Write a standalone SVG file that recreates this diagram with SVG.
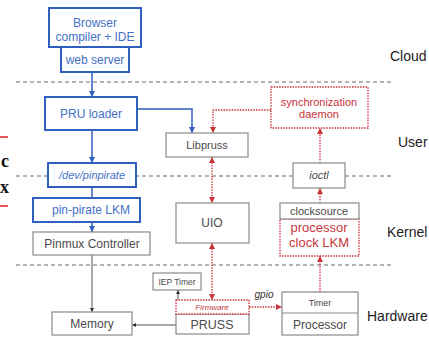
<svg xmlns="http://www.w3.org/2000/svg" width="429" height="339" viewBox="0 0 429 339">
<defs>
<marker id="ab" viewBox="0 0 10 10" refX="10" refY="5" markerWidth="6" markerHeight="6" markerUnits="userSpaceOnUse" orient="auto-start-reverse"><path d="M0,0L10,5L0,10z" fill="#2f5fbf"/></marker>
<marker id="ar" viewBox="0 0 10 10" refX="10" refY="5" markerWidth="6" markerHeight="6" markerUnits="userSpaceOnUse" orient="auto-start-reverse"><path d="M0,0L10,5L0,10z" fill="#c8343a"/></marker>
<marker id="ag" viewBox="0 0 10 10" refX="10" refY="5" markerWidth="4" markerHeight="4" markerUnits="userSpaceOnUse" orient="auto-start-reverse"><path d="M0,0L10,5L0,10z" fill="#333"/></marker>
</defs>
<style>
text{font-family:"Liberation Sans",Arial,sans-serif;text-anchor:middle}
.blue{fill:#fff;stroke:#2f5fbf;stroke-width:2}
.bt{fill:#4570c6;font-size:12px}
.gray{fill:#fff;stroke:#8a8a8a;stroke-width:1.2}
.gt{fill:#4a4a4a;font-size:12px}
.red{fill:#fff;stroke:#c8343a;stroke-width:1.3;stroke-dasharray:1.5 1.2}
.rt{fill:#c8343a}
.dash{stroke:#9a9a9a;stroke-width:1.3;stroke-dasharray:4 3;fill:none}
.lay{fill:#222;font-size:14px;text-anchor:start}
.cb{stroke:#2f5fbf;stroke-width:1.5;fill:none}
.cr{stroke:#c8343a;stroke-width:1.3;stroke-dasharray:1.5 1.2;fill:none}
.cg{stroke:#555;stroke-width:1;fill:none}
.frag{font-family:"Liberation Serif","Times New Roman",serif;font-weight:bold;font-size:18px;text-anchor:end;fill:#111}
</style>
<rect width="429" height="339" fill="#fff"/>
<g id="layers">
<line class="dash" x1="16" y1="82" x2="392" y2="82"/>
<line class="dash" x1="16" y1="176" x2="392" y2="176"/>
<line class="dash" x1="16" y1="265" x2="392" y2="265"/>
<text class="lay" x="390" y="61">Cloud</text>
<text class="lay" x="398" y="147">User</text>
<text class="lay" x="387" y="237">Kernel</text>
<text class="lay" x="367" y="321">Hardware</text>
</g>
<g id="fragment">
<line x1="0" y1="137" x2="8" y2="137" stroke="#e02020" stroke-width="1.5"/>
<line x1="0" y1="206" x2="8" y2="206" stroke="#e02020" stroke-width="1.5"/>
<text class="frag" x="9" y="167">c</text>
<text class="frag" x="9" y="193">x</text>
</g>
<g id="connectors">
<line class="cb" x1="92" y1="72" x2="92" y2="97" marker-end="url(#ab)"/>
<line class="cb" x1="92" y1="130" x2="92" y2="163" marker-end="url(#ab)"/>
<line class="cb" x1="92" y1="187" x2="92" y2="198"/>
<line class="cb" x1="92" y1="222" x2="92" y2="232" marker-end="url(#ab)"/>
<polyline class="cb" points="137,109 192,109 192,133" marker-end="url(#ab)"/>
<line class="cg" x1="92" y1="255" x2="92" y2="312" marker-end="url(#ag)"/>
<line class="cg" x1="176" y1="325" x2="132" y2="325" marker-end="url(#ag)"/>
<line class="cg" x1="178" y1="300" x2="178" y2="290" marker-end="url(#ag)"/>
<polyline class="cr" points="271,110 213,110 213,133" marker-end="url(#ar)"/>
<line class="cr" x1="212" y1="157" x2="212" y2="203" marker-start="url(#ar)" marker-end="url(#ar)"/>
<line class="cr" x1="212" y1="243" x2="212" y2="300" marker-start="url(#ar)" marker-end="url(#ar)"/>
<line class="cr" x1="320" y1="163" x2="320" y2="128" marker-end="url(#ar)"/>
<line class="cr" x1="320" y1="203" x2="320" y2="188" marker-end="url(#ar)"/>
<line class="cr" x1="320" y1="292" x2="320" y2="256" marker-end="url(#ar)"/>
<line class="cr" x1="249" y1="307" x2="282" y2="307" marker-end="url(#ar)"/>
<text x="264" y="298" style="font-size:10px;font-style:italic;fill:#333">gpio</text>
</g>
<g id="browser">
<rect class="blue" x="49" y="8" width="92" height="39"/>
<text class="bt" x="95" y="27">Browser</text>
<text class="bt" x="95" y="41">compiler + IDE</text>
</g>
<g id="webserver">
<rect class="blue" x="61" y="47" width="68" height="25"/>
<text class="bt" x="95" y="64">web server</text>
</g>
<g id="pruloader">
<rect class="blue" x="45" y="97" width="92" height="33"/>
<text class="bt" x="91" y="118">PRU loader</text>
</g>
<g id="devpinpirate">
<rect class="blue" x="48" y="163" width="88" height="24"/>
<text class="bt" x="92" y="179" style="font-size:11px;font-style:italic">/dev/pinpirate</text>
</g>
<g id="pinpiratelkm">
<rect class="blue" x="33" y="198" width="107" height="24"/>
<text class="bt" x="91" y="214">pin-pirate LKM</text>
</g>
<g id="pinmux">
<rect class="gray" x="33" y="232" width="117" height="23"/>
<text class="gt" x="92" y="248">Pinmux Controller</text>
</g>
<g id="libpruss">
<rect class="gray" x="166" y="133" width="82" height="24"/>
<text class="gt" x="207" y="149" style="font-size:11px">Libpruss</text>
</g>
<g id="sync">
<rect class="red" x="271" y="87" width="97" height="41"/>
<text class="rt" x="319" y="106" style="font-size:11px">synchronization</text>
<text class="rt" x="319" y="118" style="font-size:11px">daemon</text>
</g>
<g id="ioctl">
<rect class="gray" x="293" y="163" width="52" height="25"/>
<text class="gt" x="319" y="179" style="font-size:11px;font-style:italic">ioctl</text>
</g>
<g id="uio">
<rect class="gray" x="176" y="203" width="73" height="40"/>
<text class="gt" x="212" y="227">UIO</text>
</g>
<g id="clocklkm">
<rect class="red" x="280" y="219" width="79" height="37"/>
<rect class="gray" x="280" y="203" width="79" height="16"/>
<text class="gt" x="319" y="215" style="font-size:11px">clocksource</text>
<text class="rt" x="319" y="232" style="font-size:13px">processor</text>
<text class="rt" x="319" y="247" style="font-size:13px">clock LKM</text>
</g>
<g id="ieptimer">
<rect class="gray" x="153" y="273" width="48" height="17"/>
<text class="gt" x="177" y="285" style="font-size:8.5px">IEP Timer</text>
</g>
<g id="pruss">
<rect class="gray" x="176" y="314" width="73" height="20"/>
<rect class="red" x="176" y="300" width="73" height="14"/>
<text class="rt" x="212" y="310" style="font-size:8px;font-style:italic">Firmware</text>
<text class="gt" x="212" y="329" style="font-size:12.5px">PRUSS</text>
</g>
<g id="processor">
<rect class="gray" x="282" y="292" width="76" height="43"/>
<line x1="282" y1="313" x2="358" y2="313" stroke="#8a8a8a" stroke-width="1.2"/>
<text class="gt" x="320" y="306" style="font-size:9px">Timer</text>
<text class="gt" x="320" y="329">Processor</text>
</g>
<g id="memory">
<rect class="gray" x="52" y="312" width="80" height="23"/>
<text class="gt" x="92" y="328">Memory</text>
</g>
</svg>
